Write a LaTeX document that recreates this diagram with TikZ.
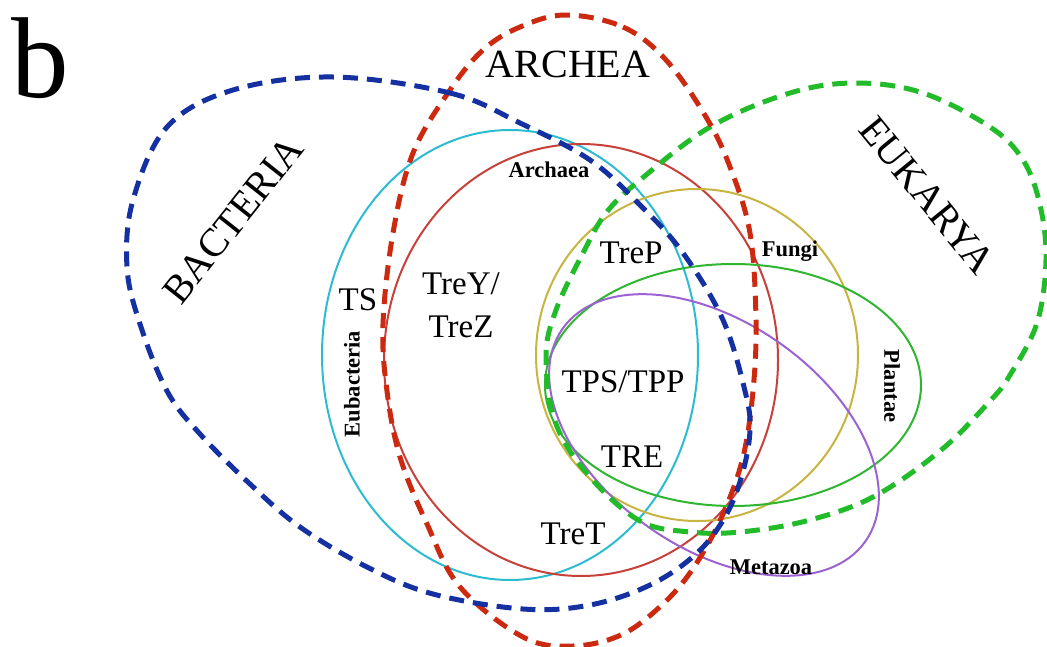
\documentclass[tikz,border=0pt]{standalone}
\usepackage{fontspec}
\setmainfont{Liberation Serif}
\definecolor{cBlueD}{HTML}{1530A0}
\definecolor{cRedD}{HTML}{CC2A10}
\definecolor{cGreenD}{HTML}{22BB2A}
\definecolor{cCyan}{HTML}{2CBCD2}
\definecolor{cRed}{HTML}{C8403A}
\definecolor{cOlive}{HTML}{C8B440}
\definecolor{cGreen}{HTML}{30B530}
\definecolor{cPurple}{HTML}{9B62D2}
\tikzset{
  domainline/.style={line width=5pt, dash pattern=on 15pt off 9pt},
  groupline/.style={line width=2pt},
  biglabel/.style={inner sep=0pt, font=\fontsize{40}{40}\selectfont},
  midlabel/.style={inner sep=0pt, font=\fontsize{33}{43}\selectfont},
  smalllabel/.style={inner sep=0pt, font=\fontsize{22.5}{22.5}\selectfont\bfseries},
}
\begin{document}
\begin{tikzpicture}[x=1pt,y=-1pt]
\useasboundingbox (0,0) rectangle (1047,647);
% solid ellipses
\draw[groupline, cCyan] (510,355) ellipse [x radius=188, y radius=225];
\draw[groupline, cRed] (581,360) ellipse [x radius=197, y radius=216];
\draw[groupline, cOlive] (697,355) ellipse [x radius=161, y radius=166];
\draw[groupline, cGreen] (733,385) ellipse [x radius=188, y radius=121];
\draw[groupline, cPurple, rotate around={-35:(714,435)}] (714,435) ellipse [x radius=185, y radius=113];
% dashed domains
\draw[domainline, cGreenD] plot[smooth cycle, tension=0.6] coordinates {
 (556,310) (583,253) (606,213) (640,180) (710,127) (790,93) (856,83) (923,93)
 (990,127) (1023,160) (1040,205) (1046,260) (1037,323) (1010,375) (990,401)
 (940,451) (873,497) (806,521) (740,532) (690,532) (640,521) (590,477) (556,424) (546,357)};
\draw[domainline, cRedD] plot[smooth cycle, tension=0.6] coordinates {
 (566,15) (623,27) (666,60) (706,117) (730,167) (750,233) (756,320) (753,391)
 (743,457) (723,514) (696,564) (666,601) (623,634) (573,646) (523,637) (460,587)
 (427,524) (400,457) (387,391) (383,324) (393,233) (413,153) (450,90) (483,50) (520,27)};
\draw[domainline, cBlueD] plot[smooth cycle, tension=0.6] coordinates {
 (333,77) (450,93) (520,123) (590,160) (640,205) (683,253) (723,320) (745,391)
 (750,430) (742,475) (725,517) (696,554) (650,585) (590,605) (523,609) (433,594)
 (367,567) (300,527) (250,484) (200,434) (167,391) (140,324) (127,267) (133,200)
 (167,127) (233,90)};
% labels
\node[inner sep=0pt, anchor=base, font=\fontsize{115}{115}\selectfont] (lb) at (40,98) {b};
\node[biglabel, anchor=base] (archea) at (568,78) {ARCHEA};
\node[biglabel, rotate=51.6] (bacteria) at (233,220) {BACTERIA};
\node[biglabel, rotate=-50.8] (eukarya) at (927,195) {EUKARYA};
\node[smalllabel, anchor=base] (archaea) at (549,178) {Archaea};
\node[smalllabel, anchor=base] (fungi) at (790,257) {Fungi};
\node[smalllabel, rotate=-90] (plantae) at (892,386) {Plantae};
\node[smalllabel, anchor=base] (metazoa) at (771,574) {Metazoa};
\node[smalllabel, rotate=90] (eubacteria) at (352,384) {Eubacteria};
\node[midlabel, anchor=base] (ts) at (358,310) {TS};
\node[midlabel, anchor=base, align=center] (treyz) at (461,337) {TreY/\\TreZ};
\node[midlabel, anchor=base] (trep) at (631,264) {TreP};
\node[midlabel, anchor=base] (tpstpp) at (623,392) {TPS/TPP};
\node[midlabel, anchor=base] (tre) at (632,467) {TRE};
\node[midlabel, anchor=base] (tret) at (573,544) {TreT};
\end{tikzpicture}
\end{document}
